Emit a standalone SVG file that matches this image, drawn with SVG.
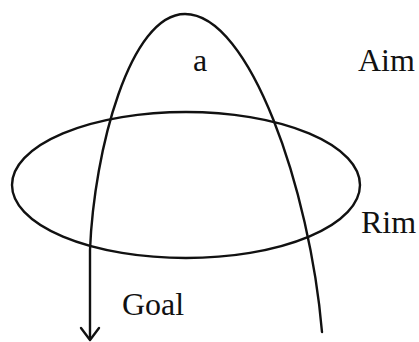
<svg xmlns="http://www.w3.org/2000/svg" width="419" height="342" viewBox="0 0 419 342">
  <style>
    .line { fill: none; stroke: #111; stroke-width: 2.4; stroke-linecap: round; stroke-linejoin: round; }
    .lbl { font-family: "Liberation Serif", "Times New Roman", serif; font-size: 32px; fill: #111; }
  </style>
  <rect width="419" height="342" fill="#ffffff"/>
  <g id="rim">
    <ellipse class="line" cx="186" cy="185" rx="174" ry="73"/>
    <text class="lbl" x="361" y="233">Rim</text>
  </g>
  <g id="aim">
    <text class="lbl" x="358" y="71">Aim</text>
  </g>
  <g id="a-label">
    <text class="lbl" x="193" y="71">a</text>
  </g>
  <g id="goal">
    <text class="lbl" x="122" y="315">Goal</text>
  </g>
  <g id="connectors">
    <path class="line" d="M 322 332 C 310 190, 250 14, 185 14 C 130 14, 94 150, 90 250 L 90 339"/>
    <path class="line" d="M 81 328 L 90 340 L 99 328"/>
  </g>
</svg>
